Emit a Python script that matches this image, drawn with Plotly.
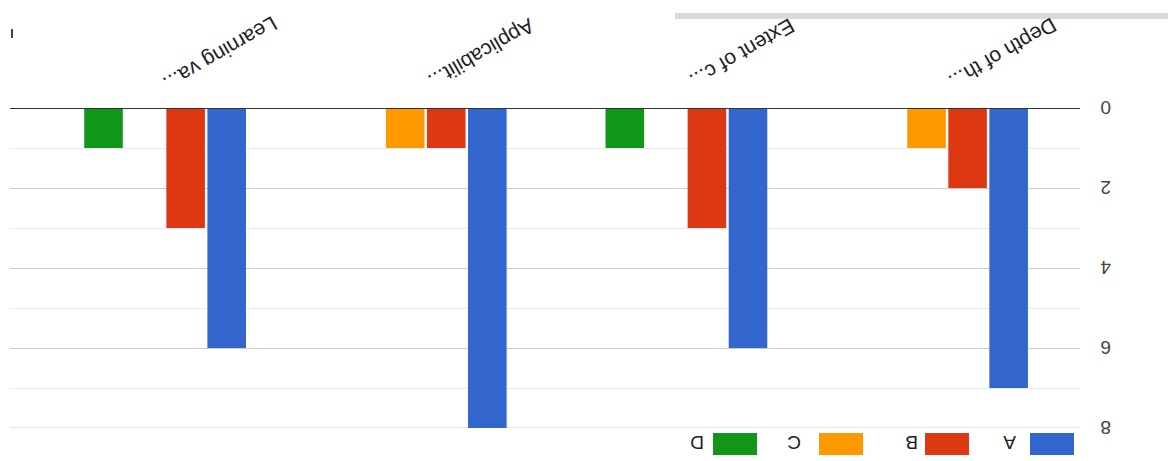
import plotly.graph_objects as go

# ---- data ----
categories = ["Depth of th...", "Extent of c...", "Applicabilit...", "Learning va..."]
series_names = ["A", "B", "C", "D"]
values_A = [7, 6, 8, 6]
values_B = [2, 3, 1, 3]
values_C = [1, 0, 1, 0]
values_D = [0, 1, 0, 1]
y_ticks = [0, 2, 4, 6, 8]
colors = ["#3366cc", "#dc3912", "#ff9900", "#109618"]

OFF = 8  # page body margin
W, H = 1176 - OFF, 461 - OFF
PL, PR, PT, PB = 10 - OFF, 1080 - OFF, 108 - OFF, 428 - OFF  # plot area in figure pixels


def px_x(px):
    # px given in window pixels
    return (px - OFF - PL) / (PR - PL)


def px_y(py):
    return (PB - (py - OFF)) / (PB - PT)


FONT = "Arial, 'Liberation Sans', sans-serif"

fig = go.Figure()
for name, vals, col in zip(series_names, [values_A, values_B, values_C, values_D], colors):
    fig.add_trace(go.Bar(x=categories, y=vals, name=name, marker=dict(color=col, line=dict(width=0)),
                         showlegend=False))

annotations = []
# category labels (upside-down, slanted)
for c in categories:
    annotations.append(dict(x=c, xref="x", y=px_y(54), yref="paper", text=c, showarrow=False,
                            textangle=150, xshift=56, font=dict(family=FONT, size=21, color="#222222"),
                            xanchor="center", yanchor="middle"))
# y tick labels (upside-down, right side)
for t in y_ticks:
    annotations.append(dict(x=1, xref="paper", y=t, yref="y", text=str(t), showarrow=False,
                            textangle=180, xshift=26, font=dict(family=FONT, size=19, color="#444444"),
                            xanchor="center", yanchor="middle"))

shapes = []
# bottom gridline at 8
shapes.append(dict(type="line", xref="paper", x0=0, x1=1, yref="y", y0=8, y1=8,
                   line=dict(color="#cccccc", width=1), layer="below"))
# baseline at zero
shapes.append(dict(type="line", xref="paper", x0=0, x1=1, yref="y", y0=0, y1=0,
                   line=dict(color="#333333", width=2), layer="above"))
# legend (upside-down, at bottom)
legend_swatch_x = [1030, 925, 819, 713]
legend_text_x = [1010, 912, 794, 697]
for name, col, sx, tx in zip(series_names, colors, legend_swatch_x, legend_text_x):
    shapes.append(dict(type="rect", xref="paper", yref="paper", x0=px_x(sx), x1=px_x(sx + 44),
                       y0=px_y(433), y1=px_y(455), fillcolor=col, line=dict(width=0)))
    annotations.append(dict(x=px_x(tx), xref="paper", y=px_y(443), yref="paper", text=name,
                            showarrow=False, textangle=180, font=dict(family=FONT, size=19, color="#222222"),
                            xanchor="center", yanchor="middle"))
# grey bar at the top
shapes.append(dict(type="rect", xref="paper", yref="paper", x0=px_x(675), x1=px_x(1170),
                   y0=px_y(19), y1=px_y(13), fillcolor="#dadada", line=dict(width=0)))
# small mark at top-left
shapes.append(dict(type="rect", xref="paper", yref="paper", x0=px_x(11), x1=px_x(13),
                   y0=px_y(38), y1=px_y(29), fillcolor="#444444", line=dict(width=0)))

fig.update_layout(
    width=W, height=H,
    margin=dict(l=PL, r=W - PR, t=PT, b=H - PB, pad=0),
    paper_bgcolor="white", plot_bgcolor="white",
    barmode="group", bargap=0.37, bargroupgap=0.06,
    xaxis=dict(range=[3.595, -0.51], showticklabels=False, showgrid=False, zeroline=False,
               showline=False, ticks=""),
    yaxis=dict(range=[8, 0], dtick=2, tick0=0, showticklabels=False, showgrid=True,
               gridcolor="#cccccc", gridwidth=1, zeroline=False, showline=False, ticks="",
               minor=dict(dtick=1, tick0=0, showgrid=True, gridcolor="#ebebeb", gridwidth=1)),
    annotations=annotations, shapes=shapes,
    showlegend=False,
)

fig.write_html("out.html")
